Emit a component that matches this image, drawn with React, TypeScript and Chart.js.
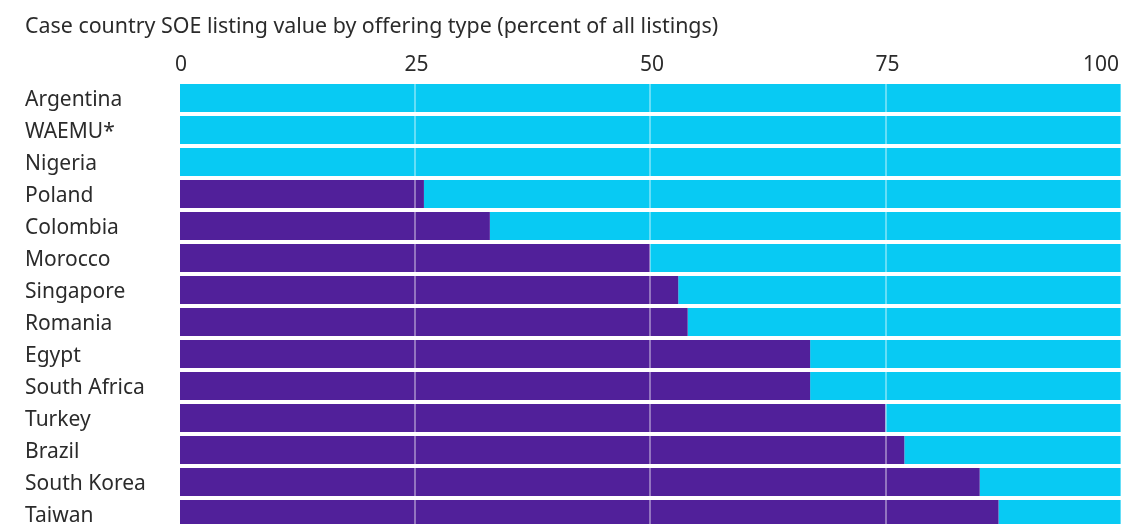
import React, { useEffect, useRef } from "react";
import { Chart, registerables } from "chart.js";

Chart.register(...registerables);

const TITLE = "Case country SOE listing value by offering type (percent of all listings)";
const countries = [
  "Argentina", "WAEMU*", "Nigeria", "Poland", "Colombia", "Morocco", "Singapore",
  "Romania", "Egypt", "South Africa", "Turkey", "Brazil", "South Korea", "Taiwan",
];
const purpleValues = [0, 0, 0, 26, 33, 50, 53, 54, 67, 67, 75, 77, 85, 87];
const cyanValues = [100, 100, 100, 74, 67, 50, 47, 46, 33, 33, 25, 23, 15, 13];
const xTicks = [0, 25, 50, 75, 100];

const PURPLE = "#51209A";
const CYAN = "#08CAF3";
const TEXT = "#2b2b2b";
const FONT = "'Noto Sans', 'Open Sans', sans-serif";
const FS = 21;
const TITLE_FS = 21.4;

const xLabelPlugin = {
  id: "xLabels",
  afterDraw(chart: any) {
    const ctx = chart.ctx;
    const sx = chart.scales.x;
    ctx.save();
    ctx.font = `${FS}px ${FONT}`;
    ctx.fillStyle = TEXT;
    ctx.textBaseline = "middle";
    ctx.textAlign = "left";
    for (const v of xTicks) {
      const label = String(v);
      const w = ctx.measureText(label).width;
      let x = sx.getPixelForValue(v) - w / 2 + 2;
      if (x + w > chart.width - 3) x = chart.width - 3 - w;
      ctx.fillText(label, x, 65.5);
    }
    ctx.restore();
  },
};

export default function App() {
  const ref = useRef<HTMLCanvasElement>(null);
  useEffect(() => {
    if (!ref.current) return;
    const chart = new Chart(ref.current, {
      type: "bar",
      data: {
        labels: countries,
        datasets: [
          { label: "A", data: purpleValues, backgroundColor: PURPLE, barPercentage: 0.875, categoryPercentage: 1 },
          { label: "B", data: cyanValues, backgroundColor: CYAN, barPercentage: 0.875, categoryPercentage: 1 },
        ],
      },
      options: {
        indexAxis: "y",
        animation: false,
        responsive: true,
        maintainAspectRatio: false,
        layout: { padding: { left: 25, right: 1, top: 0, bottom: 0 } },
        plugins: {
          legend: { display: false },
          tooltip: { enabled: false },
          title: {
            display: true,
            text: TITLE,
            align: "start",
            color: TEXT,
            font: { family: FONT, size: TITLE_FS, weight: "normal", lineHeight: 1.2 },
            padding: { top: 14, bottom: 0 },
          },
        },
        scales: {
          x: {
            position: "top",
            stacked: true,
            min: 0,
            max: 100,
            afterBuildTicks: (scale: any) => {
              scale.ticks = xTicks.map((v) => ({ value: v }));
            },
            ticks: { display: false },
            grid: { color: "rgba(255,255,255,0.38)", lineWidth: 2, drawTicks: false, z: 1 },
            border: { display: false },
            afterFit: (scale: any) => {
              scale.height = 82 - 14 - TITLE_FS * 1.2;
              scale.paddingLeft = 0;
              scale.paddingRight = 0;
            },
          },
          y: {
            stacked: true,
            grid: { display: false },
            border: { display: false },
            ticks: {
              crossAlign: "far",
              color: TEXT,
              padding: 0,
              labelOffset: 2.5,
              font: { family: FONT, size: FS },
            },
            afterFit: (scale: any) => {
              scale.width = 154;
              scale.paddingTop = 0;
              scale.paddingBottom = 0;
            },
          },
        },
      },
      plugins: [xLabelPlugin],
    });
    return () => chart.destroy();
  }, []);
  return (
    <div style={{ position: "fixed", left: 0, top: 0, width: 1122, height: 524, overflow: "hidden", background: "#fff" }}>
      <div style={{ position: "relative", width: 1122, height: 530 }}>
        <canvas ref={ref} />
      </div>
    </div>
  );
}
